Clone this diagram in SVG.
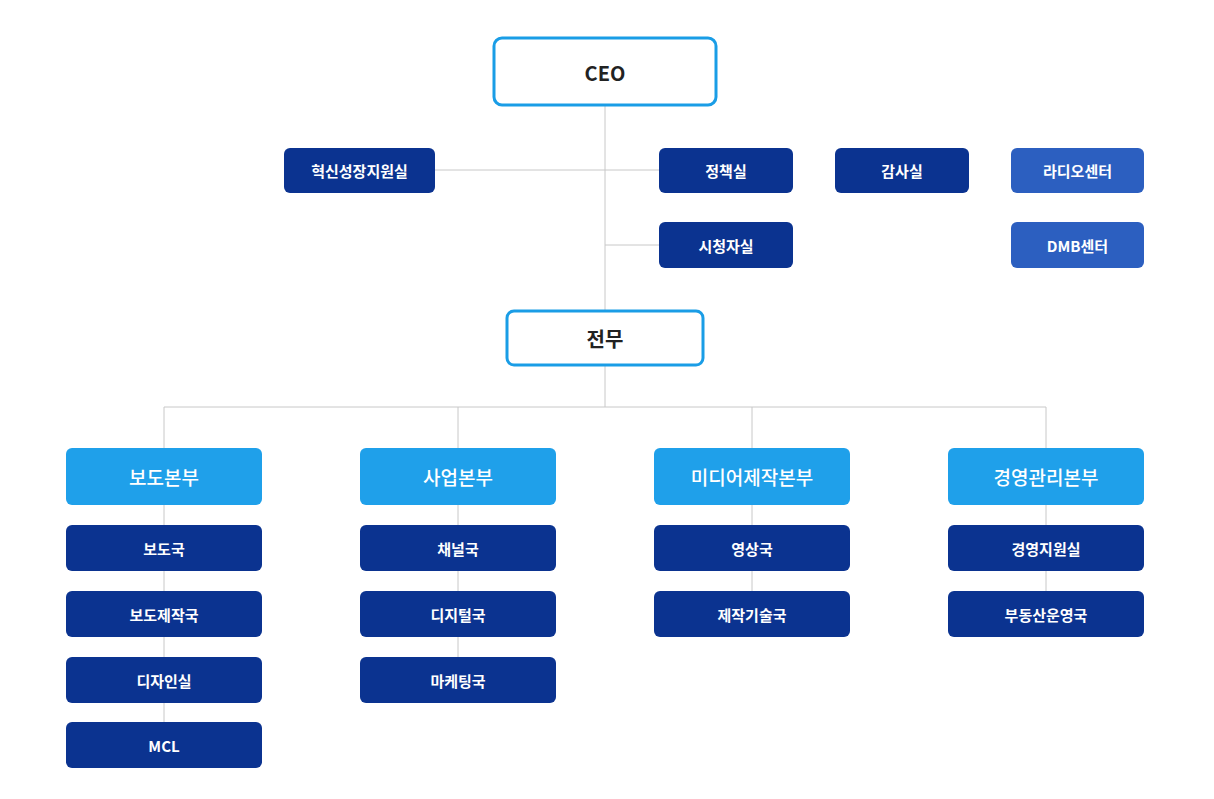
<svg xmlns="http://www.w3.org/2000/svg" width="1214" height="799" viewBox="0 0 1214 799">
<style>
text{font-family:"Noto Sans CJK KR","Noto Sans",sans-serif;font-weight:700;text-anchor:middle;dominant-baseline:central}
.top{fill:#fff;stroke:#1a9de6;stroke-width:3}
.top+text{fill:#222;font-size:20px}
.dk{fill:#0b3390}
.lt{fill:#2c5fc0}
.dv{fill:#1fa0ea}
.w{fill:#fff;font-size:15px}
.dvt{fill:#fff;font-size:19px;font-weight:500}
.ln{stroke:#c8c8c8;stroke-width:1;fill:none}
</style>
<rect width="1214" height="799" fill="#fff"/>
<g id="connectors" class="ln">
<path d="M605 105V311M435 170H659M605 245H659M605 365V407M164 407H1046M164 407V448M458 407V448M752 407V448M1046 407V448"/>
<path d="M164 505V722M458 505V657M752 505V591M1046 505V591"/>
</g>
<g id="ceo"><rect class="top" x="494" y="38" width="222" height="67" rx="8"/><text x="605" y="72">CEO</text></g>
<g id="n1"><rect class="dk" x="284" y="148" width="151" height="45" rx="6"/><text class="w" x="359.5" y="170.5">혁신성장지원실</text></g>
<g id="n2"><rect class="dk" x="659" y="148" width="134" height="45" rx="6"/><text class="w" x="726" y="170.5">정책실</text></g>
<g id="n3"><rect class="dk" x="835" y="148" width="134" height="45" rx="6"/><text class="w" x="902" y="170.5">감사실</text></g>
<g id="n4"><rect class="lt" x="1011" y="148" width="133" height="45" rx="6"/><text class="w" x="1077.5" y="170.5">라디오센터</text></g>
<g id="n5"><rect class="dk" x="659" y="222" width="134" height="46" rx="6"/><text class="w" x="726" y="245">시청자실</text></g>
<g id="n6"><rect class="lt" x="1011" y="222" width="133" height="46" rx="6"/><text class="w" x="1077.5" y="245">DMB센터</text></g>
<g id="jm"><rect class="top" x="507" y="311" width="196" height="54" rx="7"/><text x="605" y="338">전무</text></g>
<g id="d1"><rect class="dv" x="66" y="448" width="196" height="57" rx="6"/><text class="dvt" x="164" y="476.5">보도본부</text></g>
<g id="d2"><rect class="dv" x="360" y="448" width="196" height="57" rx="6"/><text class="dvt" x="458" y="476.5">사업본부</text></g>
<g id="d3"><rect class="dv" x="654" y="448" width="196" height="57" rx="6"/><text class="dvt" x="752" y="476.5">미디어제작본부</text></g>
<g id="d4"><rect class="dv" x="948" y="448" width="196" height="57" rx="6"/><text class="dvt" x="1046" y="476.5">경영관리본부</text></g>
<g id="s11"><rect class="dk" x="66" y="525" width="196" height="46" rx="6"/><text class="w" x="164" y="548">보도국</text></g>
<g id="s12"><rect class="dk" x="66" y="591" width="196" height="46" rx="6"/><text class="w" x="164" y="614">보도제작국</text></g>
<g id="s13"><rect class="dk" x="66" y="657" width="196" height="46" rx="6"/><text class="w" x="164" y="680">디자인실</text></g>
<g id="s14"><rect class="dk" x="66" y="722" width="196" height="46" rx="6"/><text class="w" x="164" y="745">MCL</text></g>
<g id="s21"><rect class="dk" x="360" y="525" width="196" height="46" rx="6"/><text class="w" x="458" y="548">채널국</text></g>
<g id="s22"><rect class="dk" x="360" y="591" width="196" height="46" rx="6"/><text class="w" x="458" y="614">디지털국</text></g>
<g id="s23"><rect class="dk" x="360" y="657" width="196" height="46" rx="6"/><text class="w" x="458" y="680">마케팅국</text></g>
<g id="s31"><rect class="dk" x="654" y="525" width="196" height="46" rx="6"/><text class="w" x="752" y="548">영상국</text></g>
<g id="s32"><rect class="dk" x="654" y="591" width="196" height="46" rx="6"/><text class="w" x="752" y="614">제작기술국</text></g>
<g id="s41"><rect class="dk" x="948" y="525" width="196" height="46" rx="6"/><text class="w" x="1046" y="548">경영지원실</text></g>
<g id="s42"><rect class="dk" x="948" y="591" width="196" height="46" rx="6"/><text class="w" x="1046" y="614">부동산운영국</text></g>
</svg>
